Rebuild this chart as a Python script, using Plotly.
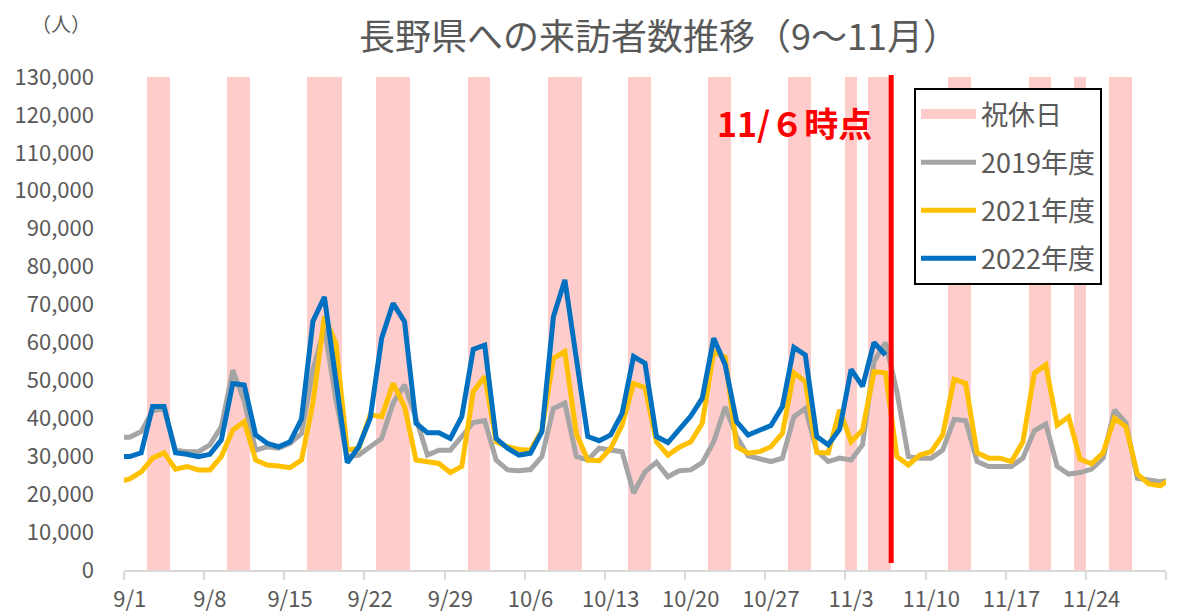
import datetime as dt
import plotly.graph_objects as go

YEAR = 2022
START = dt.date(YEAR, 9, 1)

# Daily visitors, 8/31 .. 12/1 (first and last days sit just outside the frame)
v2019 = [35000, 35000, 36500, 42000, 42500, 31600, 31200, 31200, 33000, 37800,
         52700, 44500, 31600, 32500, 32100, 33400, 36000, 52700, 64000, 45000,
         29900, 30300, 32500, 34700, 44000, 48800, 40000, 30300, 31600, 31600,
         35200, 38900, 39400, 29000, 26400, 26200, 26500, 29900, 42600, 44000,
         29900, 29000, 32100, 31600, 31200, 20300, 25900, 28400, 24600, 26200,
         26400, 28300, 33800, 43000, 35200, 30100, 29500, 28600, 29500, 40400,
         42600, 31400, 28600, 29500, 29000, 33000, 55000, 60000, 47000, 29900,
         29500, 29500, 31600, 39700, 39400, 28600, 27300, 27300, 27300, 29500,
         36700, 38500, 27300, 25300, 25700, 26600, 29500, 42200, 38800, 24200,
         23700, 23300, 23700]
v2021 = [23300, 24000, 25900, 29500, 30900, 26600, 27300, 26400, 26400, 29900,
         36900, 39100, 29000, 27700, 27400, 27000, 29000, 44000, 66800, 59800,
         31600, 32100, 40900, 40400, 49200, 43100, 29000, 28600, 28100, 25700,
         27300, 47000, 51000, 33800, 32500, 31800, 31600, 36900, 55800, 57600,
         36000, 29000, 28800, 32100, 38200, 49200, 48100, 33800, 30300, 32400,
         33800, 38700, 57500, 56100, 32500, 30800, 31200, 32500, 36000, 52000,
         49700, 31000, 30900, 42200, 33800, 36900, 52300, 52000, 29900, 27700,
         30300, 31200, 35600, 50300, 49200, 30900, 29500, 29500, 28600, 33800,
         51900, 54100, 38200, 40400, 29200, 28000, 30900, 40000, 37800, 25300,
         22700, 22200, 24200]
v2022 = [29900, 29900, 30900, 43100, 43100, 30900, 30500, 29900, 30500, 34300,
         49200, 48800, 35600, 33400, 32500, 33800, 39800, 65600, 72000, 51000,
         28300, 32500, 40000, 61100, 70300, 65500, 38700, 36200, 36200, 34700,
         40400, 58200, 59300, 34700, 32100, 30300, 30800, 36500, 66800, 76500,
         56300, 35200, 34100, 35600, 41300, 56300, 54500, 35200, 33600, 37100,
         40600, 45300, 61100, 54100, 39100, 35600, 36900, 38100, 43100, 58700,
         56700, 35200, 33000, 37100, 52900, 48400, 60000, 56700]

holidays = ["9/3", "9/4", "9/10", "9/11", "9/17", "9/18", "9/19", "9/23", "9/24",
            "9/25", "10/1", "10/2", "10/8", "10/9", "10/10", "10/15", "10/16",
            "10/22", "10/23", "10/29", "10/30", "11/3", "11/5", "11/6", "11/12",
            "11/13", "11/19", "11/20", "11/23", "11/26", "11/27"]
HOLIDAY_TOP = 130000
tick_labels = ["9/1", "9/8", "9/15", "9/22", "9/29", "10/6", "10/13", "10/20",
               "10/27", "11/3", "11/10", "11/17", "11/24"]
y_ticks = list(range(0, 130001, 10000))
cutoff = "11/6"
N_DAYS = 91


def idx(md):
    m, d = map(int, md.split("/"))
    return (dt.date(YEAR, m, d) - START).days


x_full = list(range(-1, -1 + len(v2019)))
x_2022 = list(range(-1, -1 + len(v2022)))
hx = [idx(h) for h in holidays]

GREY = "#595959"
fig = go.Figure()
fig.add_trace(go.Bar(x=hx, y=[HOLIDAY_TOP] * len(hx), width=1,
                     marker=dict(color="#FFCCCC", line=dict(width=0)),
                     showlegend=False, legendgroup="h", hoverinfo="skip"))
fig.add_trace(go.Scatter(x=[None], y=[None], mode="lines", name="祝休日",
                         line=dict(color="#FFCCCC", width=15), legendgroup="h"))
fig.add_trace(go.Scatter(x=x_full, y=v2019, mode="lines", name="2019年度",
                         line=dict(color="#A5A5A5", width=5), legendgroup="a"))
fig.add_trace(go.Scatter(x=x_full, y=v2021, mode="lines", name="2021年度",
                         line=dict(color="#FFC000", width=5), legendgroup="b"))
fig.add_trace(go.Scatter(x=x_2022, y=v2022, mode="lines", name="2022年度",
                         line=dict(color="#0070C0", width=5), legendgroup="c"))

W, H = 1179, 613
# target plot frame on screen: x 124..1166, y 77..570
PL, PR, PT, PB = 124, 1166, 77, 570
pw, ph = PR - PL, PB - PT

fig.update_layout(
    width=W, height=H,
    margin=dict(l=116, r=21, t=69, b=51),
    plot_bgcolor="white", paper_bgcolor="white",
    font=dict(family="Noto Sans CJK JP", color=GREY, size=22),
    title=dict(text="長野県への来訪者数推移（9〜11月）", x=651 / W, xanchor="center",
               y=1 - 29 / H, yanchor="middle", font=dict(size=36, color=GREY)),
    bargap=0,
    legend=dict(x=(914 - PL) / pw, y=(PB - 88) / ph, xanchor="left", yanchor="top",
                bordercolor="black", borderwidth=2, bgcolor="white",
                font=dict(size=27, color=GREY), tracegroupgap=10, itemwidth=55,
                traceorder="grouped"),
)
fig.update_xaxes(range=[-0.5, N_DAYS - 0.5], automargin=False,
                 tickmode="array", tickvals=[idx(t) for t in tick_labels],
                 ticktext=tick_labels, ticks="", ticklabelstandoff=9,
                 showline=True, linecolor="#D9D9D9", linewidth=2,
                 showgrid=False, zeroline=False,
                 minor=dict(tickmode="array",
                            tickvals=[k - 0.5 for k in range(0, N_DAYS + 1, 7)],
                            ticks="outside", ticklen=8, tickcolor="#D9D9D9",
                            tickwidth=2, showgrid=False))
fig.update_yaxes(range=[0, HOLIDAY_TOP], automargin=False, tickmode="array",
                 tickvals=y_ticks, tickformat=",d", ticks="", ticklabelstandoff=29,
                 showline=False, showgrid=False, zeroline=False)

cx = idx(cutoff) + 0.5
fig.add_shape(type="line", xref="x", yref="paper", x0=cx, x1=cx,
              y0=(PB - 563) / ph, y1=(PB - 75) / ph,
              line=dict(color="#FF0000", width=5), layer="above")
fig.add_annotation(xref="x", yref="paper", x=cx, xanchor="right", xshift=-17,
                   y=(PB - 122) / ph, yanchor="middle", showarrow=False,
                   text="<b>11/６時点</b>", font=dict(size=34, color="#FF0000"))
fig.add_annotation(xref="paper", yref="paper", x=(61 - PL) / pw, xanchor="center",
                   y=(PB - 23) / ph, yanchor="middle", showarrow=False,
                   text="（人）", font=dict(size=20, color=GREY))

fig.write_html("out.html")
